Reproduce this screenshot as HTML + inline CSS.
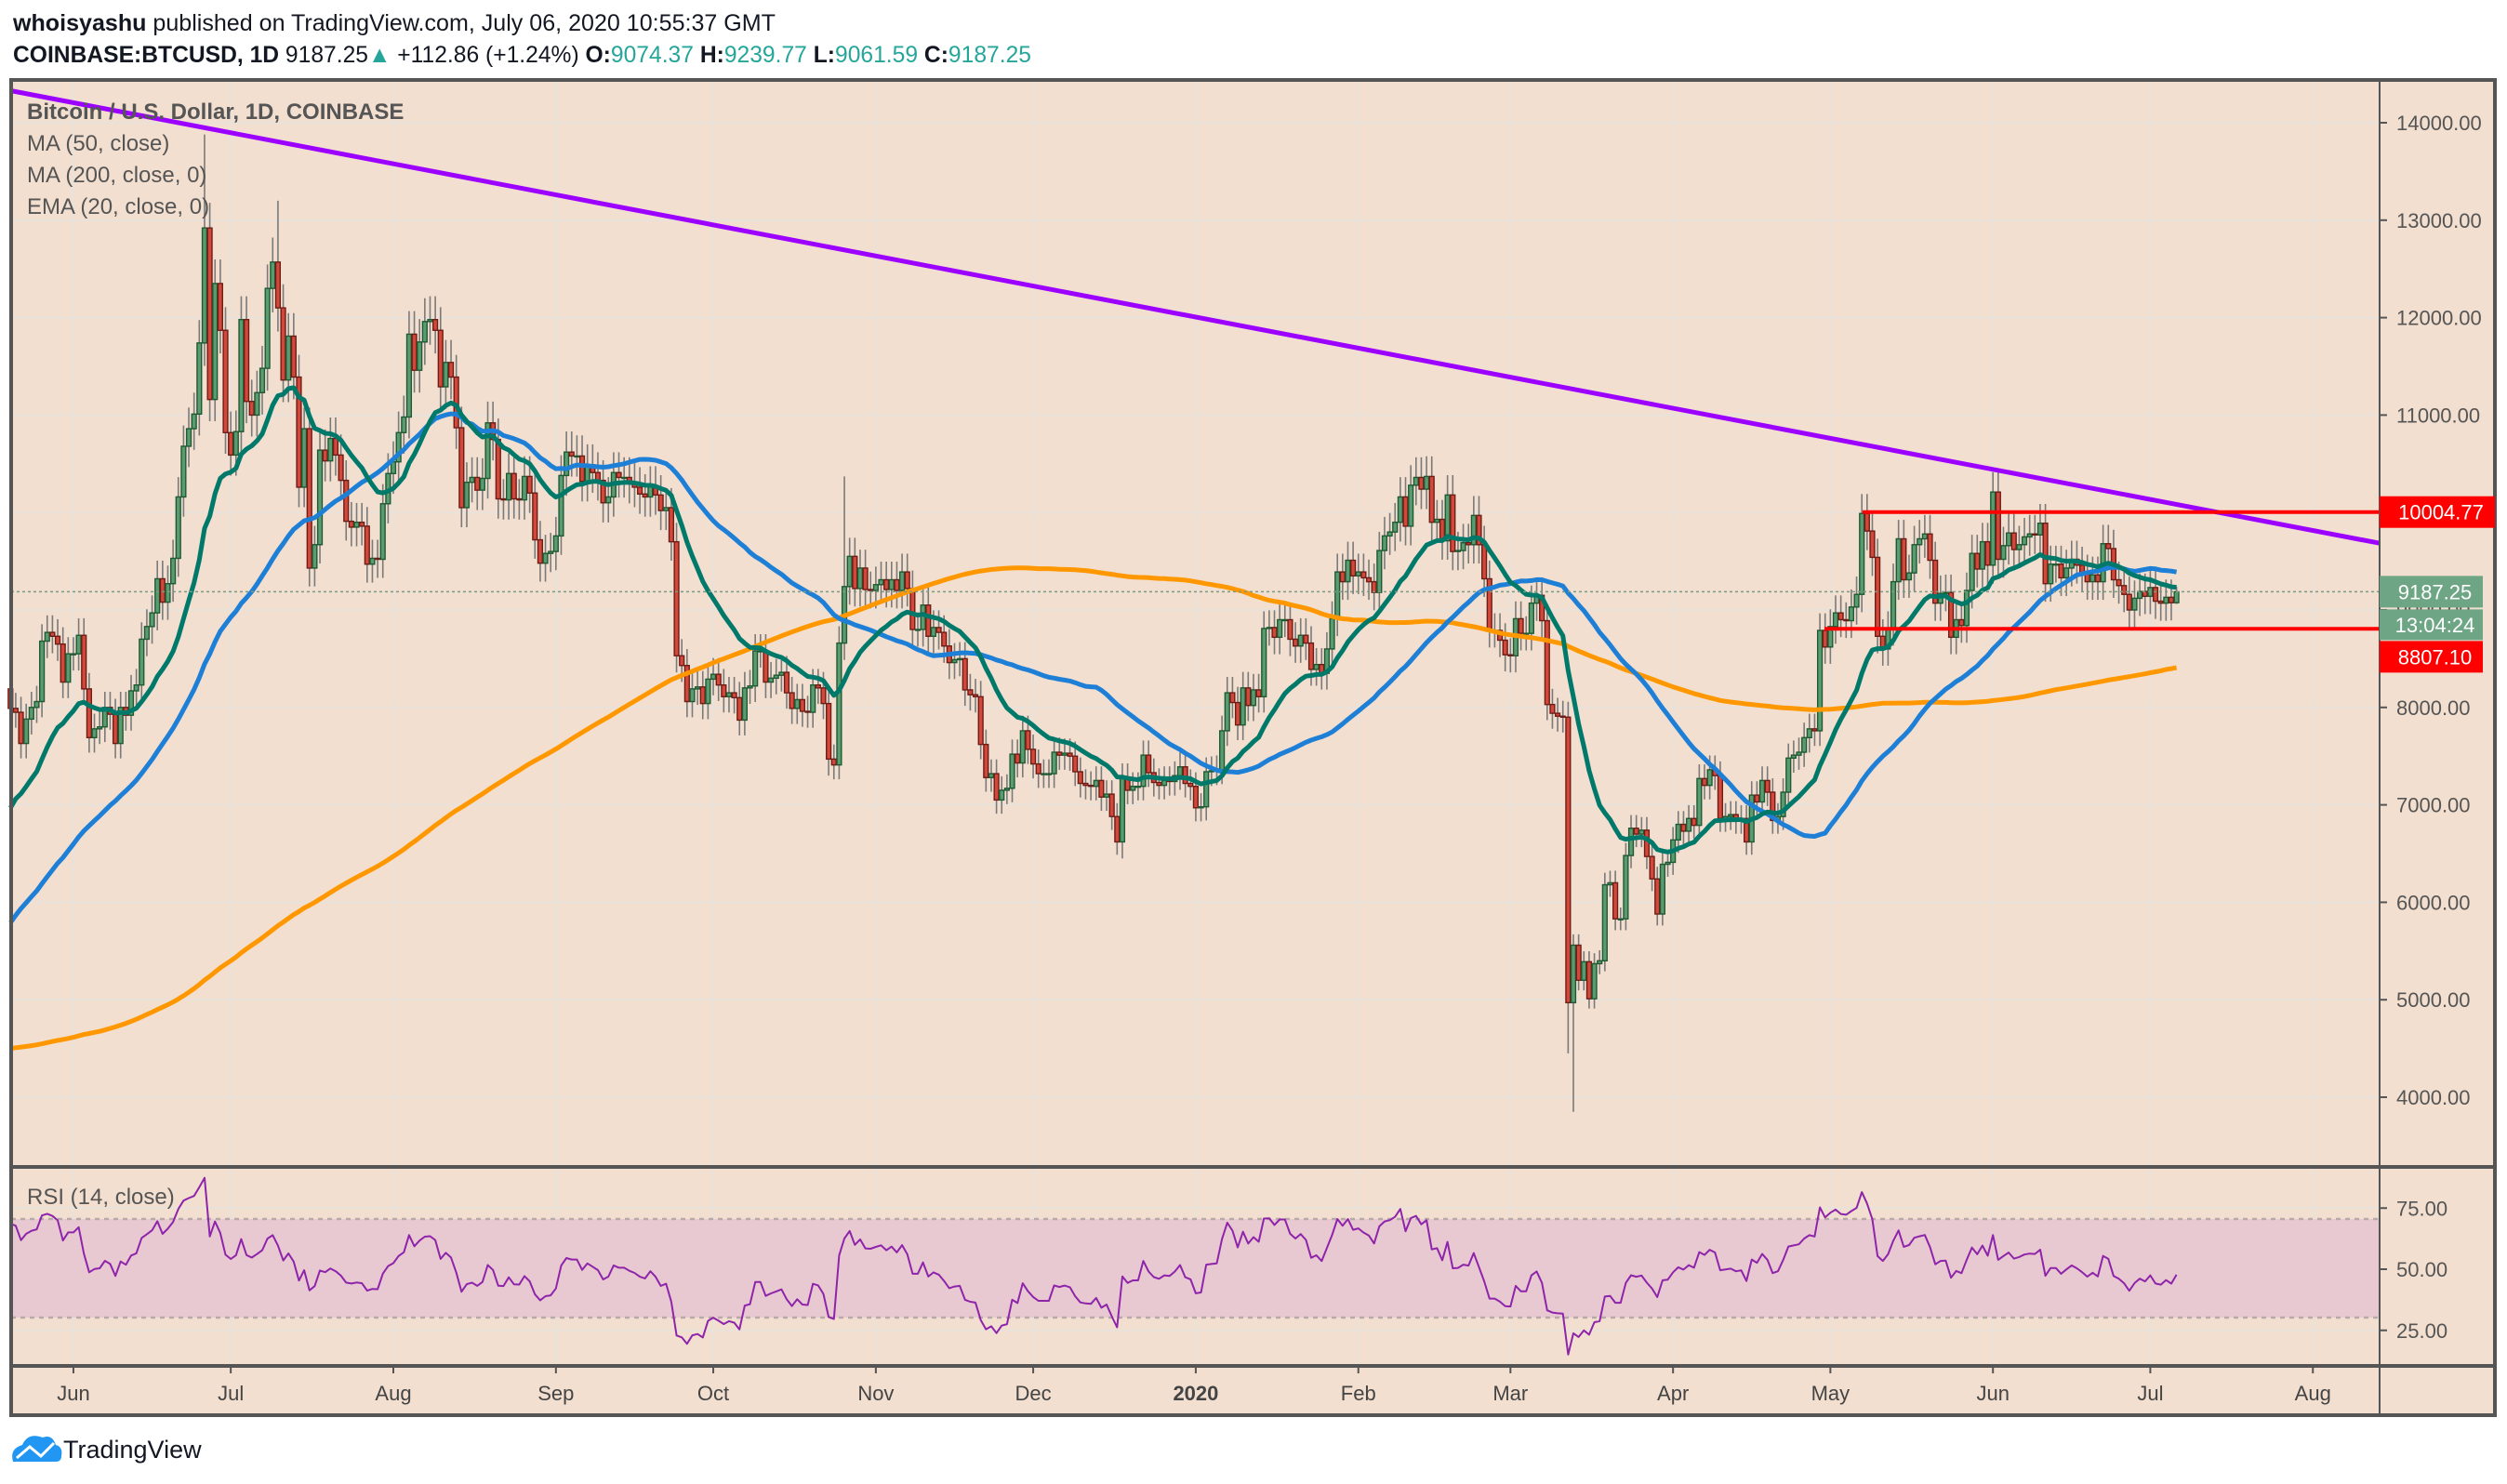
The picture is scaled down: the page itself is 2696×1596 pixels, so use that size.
<!DOCTYPE html>
<html><head><meta charset="utf-8">
<style>
html,body{margin:0;padding:0;background:#fff;width:2696px;height:1596px;overflow:hidden}
svg{display:block}
text{font-family:"Liberation Sans","DejaVu Sans",sans-serif}
</style></head>
<body>
<svg id="chart" xmlns="http://www.w3.org/2000/svg" width="2696" height="1596" viewBox="0 0 2696 1596">
<rect x="0" y="0" width="2696" height="1596" fill="#ffffff"/>
<text x="14" y="33" font-size="25" fill="#131722" textLength="820" lengthAdjust="spacingAndGlyphs"><tspan font-weight="bold">whoisyashu</tspan> published on TradingView.com, July 06, 2020 10:55:37 GMT</text>
<text x="14" y="67" font-size="25" fill="#131722" textLength="1095" lengthAdjust="spacingAndGlyphs"><tspan font-weight="bold">COINBASE:BTCUSD, 1D</tspan> 9187.25<tspan fill="#26a69a">▲</tspan> +112.86 (+1.24%) <tspan font-weight="bold">O:</tspan><tspan fill="#26a69a">9074.37</tspan> <tspan font-weight="bold">H:</tspan><tspan fill="#26a69a">9239.77</tspan> <tspan font-weight="bold">L:</tspan><tspan fill="#26a69a">9061.59</tspan> <tspan font-weight="bold">C:</tspan><tspan fill="#26a69a">9187.25</tspan></text>
<rect x="12" y="86" width="2671" height="1436" fill="#f2dfcf"/>
<g id="grid"></g>
<rect x="12" y="1311" width="2547" height="106" fill="#e8c9d2"/>
<line x1="12" x2="2559" y1="1311" y2="1311" stroke="#b8a9a9" stroke-width="2.5" stroke-dasharray="5,5"/>
<line x1="12" x2="2559" y1="1417" y2="1417" stroke="#b8a9a9" stroke-width="2.5" stroke-dasharray="5,5"/>
<g id="marks"></g>
<g id="overlay"></g>
<line x1="2559" x2="2559" y1="86" y2="1522" stroke="#555" stroke-width="2"/>
<line x1="12" x2="2683" y1="1255" y2="1255" stroke="#555" stroke-width="4"/>
<line x1="12" x2="2683" y1="1469" y2="1469" stroke="#555" stroke-width="4"/>
<rect x="12" y="86" width="2671" height="1436" fill="none" stroke="#555" stroke-width="4"/>
<text x="29" y="128" font-size="24" font-weight="bold" fill="#555">Bitcoin / U.S. Dollar, 1D, COINBASE</text>
<text x="29" y="162" font-size="24" fill="#555">MA (50, close)</text>
<text x="29" y="196" font-size="24" fill="#555">MA (200, close, 0)</text>
<text x="29" y="230" font-size="24" fill="#555">EMA (20, close, 0)</text>
<text x="29" y="1295" font-size="24" fill="#555">RSI (14, close)</text>
<g>
<path d="M14 1572 q-4 -14 10 -18 q6 -14 22 -8 q10 -4 14 8 q8 2 6 12 q0 6 -6 6 h-40 q-6 0 -6 0z" fill="#2196f3"/>
<polyline points="18,1568 32,1556 44,1566 58,1552" fill="none" stroke="#fff" stroke-width="3"/>
<text x="68" y="1568" font-size="27" fill="#131722">TradingView</text>
</g>
</svg>
<script>
// daily closes from 2018-11-01 to 2020-07-06
const closes=[
6370,6380,6400,6460,6400,6440,6530,6410,6360,6380,6340,6360,6290,5670,5580,5610,5560,5590,5230,4640,4580,4410,4270,3880,4010,3780,3830,4260,4210,4040,
4190,4150,3850,3950,3800,3500,3420,3540,3620,3510,3410,3460,3290,3230,3200,3250,3540,3690,3940,4080,3880,4000,3960,4060,3780,3830,3610,3920,3760,3920,3740,
3870,3980,3810,3800,3800,4040,4000,4000,4020,3640,3650,3630,3500,3660,3620,3650,3680,3620,3720,3540,3550,3590,3560,3590,3580,3580,3540,3450,3410,3460,3440,
3470,3470,3410,3420,3470,3390,3380,3650,3660,3680,3620,3620,3610,3590,3610,3630,3650,3890,3930,3960,3920,3980,4140,3740,3830,3800,3820,3830,
3820,3820,3790,3720,3870,3880,3890,3870,3950,3930,3860,3880,3880,3890,3920,4010,3990,3980,4030,4050,3990,4000,4010,3990,4000,3960,4040,4030,4080,4100,4100,
4140,4150,4880,4960,5030,5040,5200,5250,5200,5330,5070,5080,5090,5120,5040,5220,5280,5300,5290,5340,5270,5430,5560,5420,5220,5290,5280,5290,5210,5320,
5400,5490,5740,5830,5770,5740,5850,5990,6200,6380,7210,6970,7810,7980,8190,7880,7360,7260,8190,
7990,7950,7630,7880,8000,8060,8680,8770,8730,8650,8260,8550,
8550,8740,8190,7690,7780,7800,8000,7930,7630,8000,7920,8170,8230,8700,8830,8970,9320,9080,9270,9530,10160,10680,10860,11010,11740,12920,11160,12350,11870,10820,
10590,10830,11980,11140,11000,11230,11480,12300,12570,12100,11360,11810,11390,10260,10860,9430,9670,10640,10530,10760,10590,10330,9910,9850,9900,9860,9470,9530,9520,10090,10400,
10520,10820,10980,11830,11460,11750,11960,11980,11870,11290,11540,11390,10870,10050,10310,10360,10230,10350,10920,10750,10140,10130,10400,10140,10130,10370,10200,9720,9480,9580,9600,
9760,10380,10620,10580,10580,10320,10490,10410,10330,10100,10160,10410,10360,10360,10300,10260,10190,10160,10270,10180,10020,10050,9700,8530,8430,8060,8190,8210,8040,8290,
8340,8230,8110,8150,8100,7870,8200,8220,8580,8580,8260,8300,8330,8360,8150,7990,8080,7960,7950,8230,8200,8040,7470,7410,8660,9240,9550,9220,9430,9210,9200,
9260,9310,9210,9310,9200,9390,9220,8800,8800,9050,8730,8820,8770,8630,8460,8490,8500,8180,8130,8110,7620,7280,7320,7050,7150,7170,7520,7430,7760,7570,
7420,7320,7320,7320,7540,7510,7530,7500,7340,7220,7200,7190,7250,7080,7110,6880,6620,7280,7150,7190,7190,7510,7330,7230,7200,7250,7240,7300,7390,7220,7190,
6970,6980,7340,7350,7360,7760,8150,8050,7820,8200,8020,8180,8110,8810,8820,8720,8900,8900,8700,8630,8740,8660,8390,8440,8350,8600,8910,9390,9290,9510,9350,
9390,9330,9290,9180,9610,9760,9800,9900,10160,9860,10280,10360,10240,10370,9900,9930,9710,10180,9600,9610,9690,9670,9970,9670,9320,8790,8790,8690,8540,
8530,8910,8760,8760,9070,9150,8890,8030,7940,7910,7900,4970,5560,5200,5390,5010,5370,5400,6180,6200,5830,5830,6480,6760,6700,6740,6470,6240,5880,6390,6410,
6640,6800,6730,6860,6790,7270,7200,7360,7300,6860,6880,6900,6840,6860,6620,7100,7030,7250,7130,6840,6880,7130,7480,7510,7540,7690,7780,7760,8790,8620,
8830,8970,8900,8890,9030,9160,9990,9810,9540,8730,8600,8810,9290,9730,9310,9380,9670,9730,9780,9510,9070,9170,9180,8720,8900,8840,9200,9580,9420,9700,9460,
10210,9520,9660,9790,9620,9670,9750,9780,9770,9890,9270,9470,9470,9330,9430,9520,9460,9380,9290,9360,9290,9680,9630,9310,9250,9160,9000,9120,9190,9140,
9230,9090,9070,9130,9074.37,9187.25];
const lastOpen=9074.37, lastHigh=9239.77, lastLow=9061.59;
// notable wick extremes: [day index, price]
const extremeHighIdx=[237,251,359,470,579];
const extremeHighVal=[13880,13200,10370,10500,10430];
const extremeLowIdx=[497,498,356,412];
const extremeLowVal=[4450,3850,7300,6450];
const visibleDays=414;
const priceTicks=[14000,13000,12000,11000,10000,9000,8000,7000,6000,5000,4000];
const rsiTicks=[75,50,25];
const monthLabels=["Jun","Jul","Aug","Sep","Oct","Nov","Dec","2020","Feb","Mar","Apr","May","Jun","Jul","Aug"];
const monthDayOffsets=[0,30,61,92,122,153,183,214,245,274,305,335,366,396,427]; // days from 2019-06-01
const levels=[10004.77,8807.10];
const trendline=[14328,9685];

const NS="http://www.w3.org/2000/svg";
const N=closes.length;
const DX=5.64, XLAST=2340.6, PLOT_L=12, PLOT_R=2559;
const xIdx=i=>XLAST-(N-1-i)*DX;
const xDay=d=>XLAST-(401-d)*DX;
const yP=p=>132+(14000-p)*0.1048;
const yR=v=>1365-(v-50)*2.63;
function mk(tag,attrs,parent){const e=document.createElementNS(NS,tag);for(const k in attrs)e.setAttribute(k,attrs[k]);parent.appendChild(e);return e;}
const grid=document.getElementById('grid'), marks=document.getElementById('marks'), ov=document.getElementById('overlay'), svg=document.getElementById('chart');

priceTicks.forEach(p=>{const l=mk('line',{x1:PLOT_L,x2:PLOT_R,y1:yP(p),y2:yP(p),stroke:'#e9e2db','stroke-width':2},grid);

});
rsiTicks.forEach(v=>{const l=mk('line',{x1:PLOT_L,x2:PLOT_R,y1:yR(v),y2:yR(v),stroke:'#e9e2db','stroke-width':2},grid);

});
monthDayOffsets.forEach(d=>{const x=xDay(d);const l=mk('line',{x1:x,x2:x,y1:86,y2:1469,stroke:'#e9e2db','stroke-width':2},grid);

});

priceTicks.forEach(p=>{const y=yP(p);
mk('line',{x1:2559,x2:2567,y1:y,y2:y,stroke:'#555','stroke-width':2},svg);
const t=mk('text',{x:2577,y:y+8,'font-size':22,fill:'#555'},svg);t.textContent=p.toFixed(2);

});
rsiTicks.forEach(v=>{const y=yR(v);
mk('line',{x1:2559,x2:2567,y1:y,y2:y,stroke:'#555','stroke-width':2},svg);
const t=mk('text',{x:2577,y:y+8,'font-size':22,fill:'#555'},svg);t.textContent=v.toFixed(2);

});
monthLabels.forEach((m,k)=>{const x=xDay(monthDayOffsets[k]);
mk('line',{x1:x,x2:x,y1:1469,y2:1477,stroke:'#555','stroke-width':2},svg);
const t=mk('text',{x:x,y:1506,'font-size':22,fill:'#444','text-anchor':'middle','font-weight':m==='2020'?'bold':'normal'},svg);t.textContent=m;

});

const start=N-visibleDays;
function sma(n){return closes.map((c,i)=>{if(i<n-1)return null;let s=0;for(let j=i-n+1;j<=i;j++)s+=closes[j];return s/n;});}
function ema(n){const out=[];let e=null;const k=2/(n+1);closes.forEach((c,i)=>{if(i===n-1){let s=0;for(let j=0;j<n;j++)s+=closes[j];e=s/n;}else if(i>=n){e=c*k+e*(1-k);}out.push(e);});return out;}
function rsi(n){const out=new Array(N).fill(null);let ag=0,al=0;for(let i=1;i<N;i++){const ch=closes[i]-closes[i-1];const g=Math.max(ch,0),l=Math.max(-ch,0);if(i<=n){ag+=g/n;al+=l/n;if(i===n)out[i]=100-100/(1+ag/(al||1e-9));}else{ag=(ag*(n-1)+g)/n;al=(al*(n-1)+l)/n;out[i]=100-100/(1+ag/(al||1e-9));}}return out;}
function line(vals,yf,color,w,name){let pts=[];for(let i=start;i<N;i++){if(vals[i]!=null)pts.push(xIdx(i).toFixed(1)+','+yf(vals[i]).toFixed(1));}
const p=mk('polyline',{points:pts.join(' '),fill:'none',stroke:color,'stroke-width':w,'stroke-linejoin':'round'},ov);

}

for(let i=start;i<N;i++){
  const c=closes[i];const o=(i===N-1)?lastOpen:closes[i-1];
  let h=Math.max(o,c)*1.02, l=Math.min(o,c)*0.98;
  const hk=extremeHighIdx.indexOf(i); if(hk>=0)h=Math.max(h,extremeHighVal[hk]);
  const lk=extremeLowIdx.indexOf(i); if(lk>=0)l=Math.min(l,extremeLowVal[lk]);
  if(i===N-1){h=lastHigh;l=lastLow;}
  const x=xIdx(i);const up=c>=o;
  const w=mk('line',{x1:x,x2:x,y1:yP(h),y2:yP(l),stroke:'#7a7a7a','stroke-width':1.6},marks);
  
  
  const yt=yP(Math.max(o,c)), yb=yP(Math.min(o,c));
  const b=mk('rect',{x:x-2.4,y:yt,width:4.8,height:Math.max(yb-yt,1),fill:up?'#5b9b72':'#d2483a',stroke:up?'#1e5a32':'#6e1c16','stroke-width':1.4},marks);
  
  
}
line(sma(200),yP,'#ff9800',5,'ma200-line');
line(sma(50),yP,'#1e7fd6',5,'ma50-line');
line(ema(20),yP,'#00796b',5,'ema20-line');
line(rsi(14),yR,'#8e24aa',2,'rsi-line');

const tl=mk('line',{x1:PLOT_L,x2:PLOT_R,y1:yP(trendline[0]),y2:yP(trendline[1]),stroke:'#9c00ff','stroke-width':5},ov);


const r1=mk('line',{x1:2003,x2:PLOT_R,y1:yP(levels[0]),y2:yP(levels[0]),stroke:'#ff0000','stroke-width':4},ov);


const r2=mk('line',{x1:1962,x2:PLOT_R,y1:yP(levels[1]),y2:yP(levels[1]),stroke:'#ff0000','stroke-width':4},ov);


const cur=closes[N-1];
const pl=mk('line',{x1:PLOT_L,x2:PLOT_R,y1:yP(cur),y2:yP(cur),stroke:'#7a9a84','stroke-width':1.5,'stroke-dasharray':'3,3'},ov);



function badge(y,h,w,fill,txt,name){
 const g=mk('g',{},svg);
 
 
 mk('rect',{x:2559,y:y,width:w,height:h,fill:fill},g);
 const t=mk('text',{x:2559+w/2+4,y:y+h/2+8,'font-size':22,fill:'#fff','text-anchor':'middle'},g);t.textContent=txt;}
const curTop=yP(cur)-17;
badge(yP(levels[0])-17,34,124,'#ff0000',levels[0].toFixed(2),'resistance-price-label');
badge(curTop,34,111,'#6da585',cur.toFixed(2),'last-price-label');
badge(curTop+36,33,111,'#6da585','13:04:24','countdown-label');
badge(Math.max(yP(levels[1])-17,curTop+70),34,111,'#ff0000',levels[1].toFixed(2),'support-price-label');
</script>
</body></html>
